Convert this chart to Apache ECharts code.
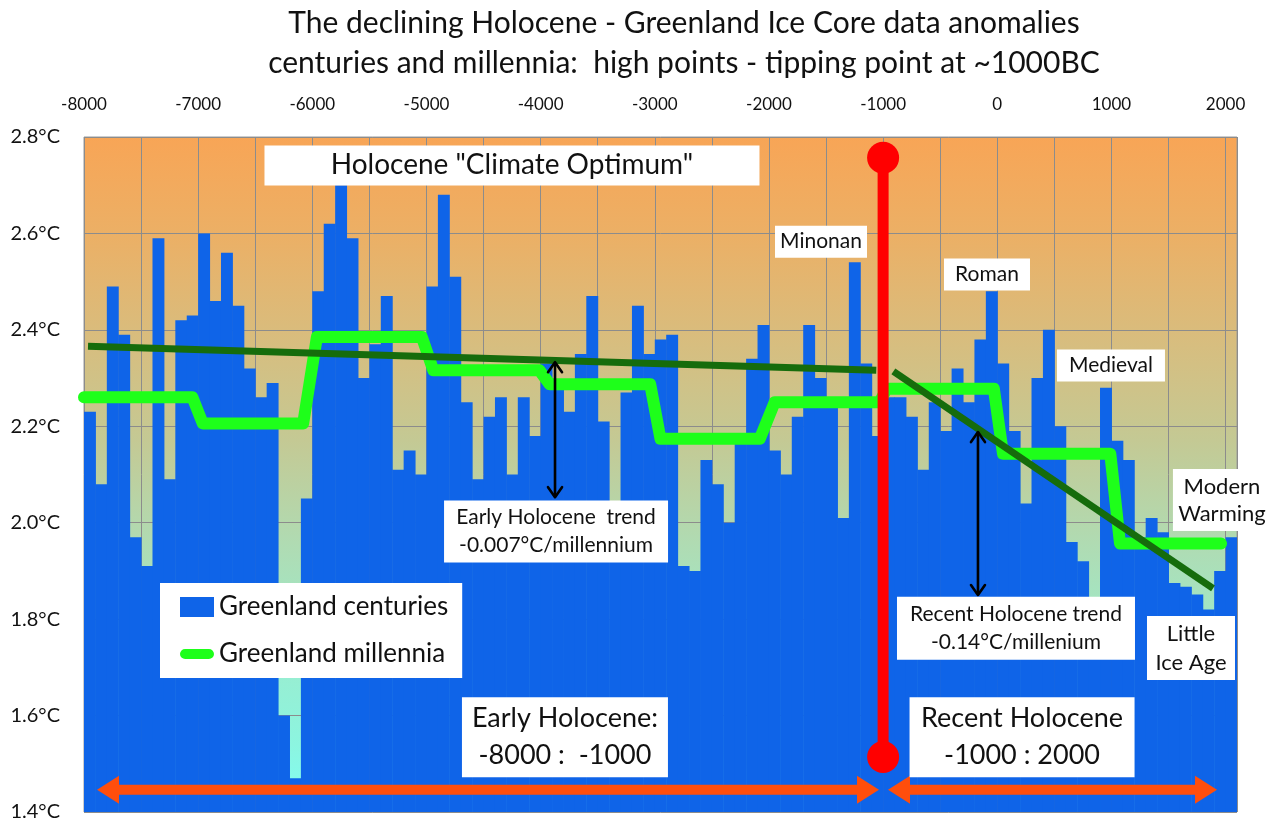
<!DOCTYPE html>
<html>
<head>
<meta charset="utf-8">
<title>The declining Holocene - Greenland Ice Core data anomalies</title>
<script src="https://cdn.jsdelivr.net/npm/echarts@6/dist/echarts.min.js"></script>
<style>
  html, body { margin: 0; padding: 0; background: #ffffff; }
  #chart { width: 1277px; height: 823px; }
</style>
</head>
<body>
<div id="chart"></div>
<script>
// ---- Data -------------------------------------------------------------
// Century bins start at -8000 and step by 100 years (101 bins to 2000).
const firstCentury = -8000;
const centuryStep = 100;

// Greenland century temperature (°C), one value per century bin
const centuryValues = [
  2.23, 2.08, 2.49, 2.39, 1.97, 1.91, 2.59, 2.09, 2.42, 2.43,
  2.60, 2.46, 2.56, 2.45, 2.32, 2.26, 2.29, 1.60, 1.47, 2.05,
  2.48, 2.62, 2.70, 2.59, 2.30, 2.37, 2.47, 2.11, 2.15, 2.10,
  2.49, 2.68, 2.51, 2.25, 2.09, 2.22, 2.26, 2.10, 2.26, 2.18,
  2.33, 2.29, 2.23, 2.35, 2.47, 2.21, 1.98, 2.27, 2.45, 2.35,
  2.38, 2.39, 1.91, 1.90, 2.13, 2.08, 2.00, 2.17, 2.34, 2.41,
  2.15, 2.10, 2.22, 2.41, 2.30, 2.24, 2.01, 2.54, 2.33, 2.18,
  2.26, 2.26, 2.22, 2.11, 2.25, 2.19, 2.32, 2.25, 2.38, 2.48,
  2.33, 2.19, 2.04, 2.30, 2.40, 2.20, 1.96, 1.92, 1.81, 2.28,
  2.17, 2.13, 1.97, 2.01, 1.98, 1.875, 1.867, 1.851, 1.82, 1.90,
  1.97
];

// Greenland millennium means (°C) as a stepped path
const millenniaYears  = [-8000, -7050, -6960, -6080, -5960, -5040, -4940, -4010, -3920, -3040, -2950, -2080, -1950, -1030, -970, -30, 50, 990, 1075, 1960];
const millenniaValues = [ 2.26,  2.26, 2.206, 2.206, 2.385, 2.385, 2.316, 2.316, 2.287, 2.287, 2.174, 2.174, 2.250, 2.250, 2.278, 2.278, 2.143, 2.143, 1.957, 1.957];

// Linear trends (°C)
const earlyTrendYears   = [-7965, -1060];
const earlyTrendValues  = [2.366, 2.316];
const recentTrendYears  = [-910, 1890];
const recentTrendValues = [2.314, 1.864];

// Tipping point marker at ~1000 BC
const tippingYear   = -1000;
const tippingValues = [2.757, 1.514];

// Period spans (double arrows along the bottom)
const periodStarts = [-7886, -957];
const periodEnds   = [-1036, 1925];
const periodLevel  = 1.446;

// Trend distance arrows: [year, upper °C, lower °C]
const gapYears  = [-3874, -169];
const gapTops   = [2.333, 2.188];
const gapBottom = [2.053, 1.850];

// Annotations
const noteYears  = [-4251, -1544, -90, 996, 1968, 1697, -3865, 164, -3787, 217];
const noteValues = [2.741, 2.583, 2.515, 2.326, 2.047, 1.740, 1.982, 1.781, 1.555, 1.555];
const noteTexts  = [
  'Holocene "Climate Optimum"',
  'Minonan',
  'Roman',
  'Medieval',
  'Modern\nWarming',
  'Little\nIce Age',
  'Early Holocene  trend\n-0.007°C/millennium',
  'Recent Holocene trend\n-0.14°C/millenium',
  'Early Holocene:\n-8000 :  -1000',
  'Recent Holocene\n-1000 : 2000'
];

// Axis settings
const yMin = 1.4, yMax = 2.8, yStep = 0.2;
const xMin = -8000, xMax = 2100, xStep = 500;

// ---- Styling ------------------------------------------------------------
const FONT = 'Lato, "Open Sans", sans-serif';
const barBlue = '#0f64e8';
const brightGreen = '#1eff1a';
const darkGreen = '#166c0c';
const red = '#ff0000';
const orange = '#ff4e0c';

// box sizes [w, h], font size, line height per annotation
const noteBoxes = [
  [495, 40, 28, 32],
  [92, 32, 21, 24],
  [86, 32, 21, 24],
  [108, 32, 21, 24],
  [98, 62, 22, 27],
  [88, 64, 22, 29],
  [224, 62, 21, 28],
  [238, 63, 21, 28],
  [206, 80, 27, 37],
  [225, 80, 27, 37]
];

// capsule-shaped legend marker for the millennia line
const capsuleIcon = 'path://M0,0L0.01,0ZM6,4L34,4A6,6,0,0,1,34,16L6,16A6,6,0,0,1,6,4ZM40,20L39.99,20Z';

const centuryData = centuryValues.map((v, i) => [firstCentury + i * centuryStep, v]);
const millenniaData = millenniaYears.map((y, i) => [y, millenniaValues[i]]);
const earlyData = earlyTrendYears.map((y, i) => [y, earlyTrendValues[i]]);
const recentData = recentTrendYears.map((y, i) => [y, recentTrendValues[i]]);
const tippingData = tippingValues.map(v => [tippingYear, v]);
const periodData = periodStarts.map((s, i) => [s, periodEnds[i], periodLevel]);
const gapData = gapYears.map((y, i) => [y, gapTops[i], gapBottom[i]]);
const noteData = noteYears.map((y, i) => [y, noteValues[i], i]);

const chart = echarts.init(document.getElementById('chart'), null, { renderer: 'canvas' });

const option = {
  backgroundColor: '#ffffff',
  animation: false,
  textStyle: { fontFamily: FONT },
  graphic: [
    {
      type: 'text', x: 684, y: 23, z: 10,
      style: {
        text: 'The declining Holocene - Greenland Ice Core data anomalies',
        font: '30px ' + FONT, fill: '#111', align: 'center', verticalAlign: 'middle'
      }
    },
    {
      type: 'text', x: 684, y: 63, z: 10,
      style: {
        text: 'centuries and millennia:  high points - tipping point at ~1000BC',
        font: '30px ' + FONT, fill: '#111', align: 'center', verticalAlign: 'middle'
      }
    }
  ],
  legend: {
    left: 160, top: 583,
    orient: 'vertical',
    backgroundColor: '#ffffff',
    padding: [11, 14, 11, 20],
    itemWidth: 34, itemHeight: 20, itemGap: 21,
    textStyle: { fontSize: 26, color: '#111', fontFamily: FONT },
    data: [
      { name: 'Greenland centuries', icon: 'rect' },
      { name: 'Greenland millennia', icon: capsuleIcon }
    ],
    z: 20
  },
  grid: {
    left: 84, right: 40, top: 137, bottom: 11,
    show: true,
    borderColor: '#9a9a9a', borderWidth: 1,
    backgroundColor: {
      type: 'linear', x: 0, y: 0, x2: 0, y2: 1,
      colorStops: [
        { offset: 0.00, color: '#f8a556' },
        { offset: 0.15, color: '#ebb066' },
        { offset: 0.30, color: '#d8bd7e' },
        { offset: 0.45, color: '#c4c994' },
        { offset: 0.60, color: '#b0dbb2' },
        { offset: 0.75, color: '#9cebcc' },
        { offset: 0.90, color: '#8cf5e0' },
        { offset: 1.00, color: '#7efff6' }
      ]
    }
  },
  xAxis: {
    type: 'value', position: 'top',
    min: xMin, max: xMax, interval: xStep,
    axisLine: { show: false },
    axisTick: { show: false },
    axisLabel: {
      margin: 24, fontSize: 17, color: '#111', fontFamily: FONT,
      formatter: v => (v % 1000 === 0 && v <= 2000) ? String(v) : ''
    },
    splitLine: { show: true, lineStyle: { color: '#8c8c8c', width: 1 } }
  },
  yAxis: {
    type: 'value',
    min: yMin, max: yMax, interval: yStep,
    axisLine: { show: false },
    axisTick: { show: false },
    axisLabel: {
      margin: 24, fontSize: 20, color: '#111', fontFamily: FONT,
      formatter: v => v.toFixed(1) + '°C'
    },
    splitLine: { show: true, lineStyle: { color: '#8c8c8c', width: 1 } }
  },
  series: [
    {
      name: 'Greenland centuries',
      type: 'custom',
      z: 1,
      clip: true,
      itemStyle: { color: barBlue },
      encode: { x: 0, y: 1 },
      data: centuryData,
      renderItem: (params, api) => {
        const x0 = api.value(0), v = api.value(1);
        const tl = api.coord([x0, v]);
        const br = api.coord([x0 + centuryStep, yMin]);
        return {
          type: 'rect',
          shape: { x: tl[0], y: tl[1], width: br[0] - tl[0] + 0.5, height: br[1] - tl[1] },
          style: { fill: barBlue }
        };
      }
    },
    {
      name: 'Greenland millennia',
      type: 'line',
      z: 3,
      symbol: 'none',
      color: brightGreen,
      itemStyle: { color: brightGreen },
      lineStyle: { color: brightGreen, width: 12, cap: 'round', join: 'round' },
      data: millenniaData
    },
    {
      name: 'Early trend',
      type: 'line', z: 4, symbol: 'none',
      lineStyle: { color: darkGreen, width: 7, cap: 'butt' },
      data: earlyData
    },
    {
      name: 'Recent trend',
      type: 'line', z: 4, symbol: 'none',
      lineStyle: { color: darkGreen, width: 7, cap: 'butt' },
      data: recentData
    },
    {
      name: 'Trend gaps',
      type: 'custom', z: 5,
      data: gapData,
      renderItem: (params, api) => {
        const top = api.coord([api.value(0), api.value(1)]);
        const bot = api.coord([api.value(0), api.value(2)]);
        const x = top[0], hw = 7, hl = 10;
        const st = { stroke: '#000', lineWidth: 2.6, fill: null, lineCap: 'round', lineJoin: 'round' };
        return {
          type: 'group',
          children: [
            { type: 'line', shape: { x1: x, y1: top[1] + 1, x2: x, y2: bot[1] - 1 }, style: st },
            { type: 'polyline', shape: { points: [[x - hw, top[1] + hl], [x, top[1]], [x + hw, top[1] + hl]] }, style: st },
            { type: 'polyline', shape: { points: [[x - hw, bot[1] - hl], [x, bot[1]], [x + hw, bot[1] - hl]] }, style: st }
          ]
        };
      }
    },
    {
      name: 'Periods',
      type: 'custom', z: 6,
      data: periodData,
      renderItem: (params, api) => {
        const a = api.coord([api.value(0), api.value(2)]);
        const b = api.coord([api.value(1), api.value(2)]);
        const y = a[1], hl = 22, hw = 14, sw = 5;
        const pts = [
          [a[0], y], [a[0] + hl, y - hw], [a[0] + hl, y - sw], [b[0] - hl, y - sw], [b[0] - hl, y - hw],
          [b[0], y], [b[0] - hl, y + hw], [b[0] - hl, y + sw], [a[0] + hl, y + sw], [a[0] + hl, y + hw]
        ];
        return { type: 'polygon', shape: { points: pts }, style: { fill: orange } };
      }
    },
    {
      name: 'Tipping point',
      type: 'line', z: 7,
      symbol: 'circle', symbolSize: 32, showSymbol: true,
      itemStyle: { color: red },
      lineStyle: { color: red, width: 11 },
      data: tippingData
    },
    {
      name: 'Notes',
      type: 'custom', z: 8,
      clip: false,
      data: noteData,
      renderItem: (params, api) => {
        const i = api.value(2);
        const p = api.coord([api.value(0), api.value(1)]);
        const [w, h, fs, lh] = noteBoxes[i];
        return {
          type: 'group',
          children: [
            { type: 'rect', shape: { x: p[0] - w / 2, y: p[1] - h / 2, width: w, height: h }, style: { fill: '#ffffff' } },
            {
              type: 'text', x: p[0], y: p[1],
              style: {
                text: noteTexts[i], fill: '#111',
                font: fs + 'px ' + FONT, lineHeight: lh,
                align: 'center', verticalAlign: 'middle'
              }
            }
          ]
        };
      }
    }
  ]
};

chart.setOption(option);
</script>
</body>
</html>
